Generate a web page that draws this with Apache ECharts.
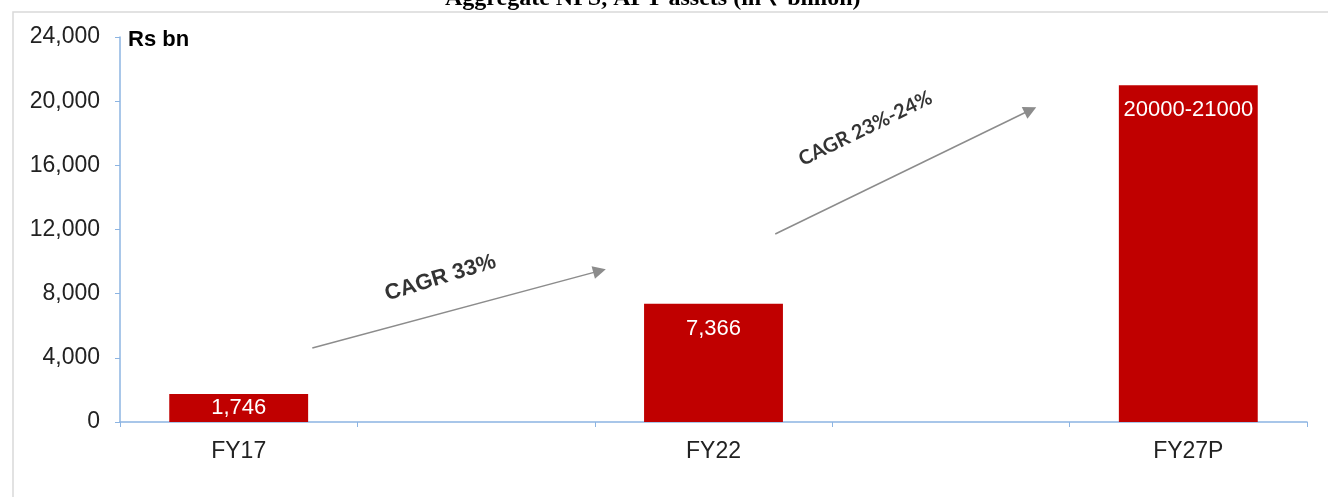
<!DOCTYPE html>
<html>
<head>
<meta charset="utf-8">
<style>
  html, body { margin: 0; padding: 0; background: #fff; }
  #chart { width: 1328px; height: 497px; }
</style>
<script src="https://cdn.jsdelivr.net/npm/echarts@6/dist/echarts.min.js"></script>
</head>
<body>
<div id="chart"></div>
<script>
// Fiscal years; the blank slots keep the gaps between the bars
const categories = ['FY17', '', 'FY22', '', 'FY27P'];
// Aggregate NPS, APY assets (Rs bn)
const assets = [1746, null, 7366, null, 21000];
const valueLabels = ['1,746', '', '7,366', '', '20000-21000'];
const yTicks = [0, 4000, 8000, 12000, 16000, 20000, 24000];

// Growth arrows, in (slot position, Rs bn) units
const arrowStarts = [[0.81, 4610], [2.76, 11720]];
const arrowEnds = [[2.02, 9420], [3.835, 19450]];
// Growth notes, their anchor points and tilt in degrees
const cagrTexts = ['CAGR 33%', 'CAGR 23%-24%'];
const cagrPoints = [[1.35, 8980], [3.14, 18300]];
const cagrTilt = [17, 26];
const cagrFonts = ['"Liberation Sans", Arial', 'Lato, "Open Sans", Arial'];
const cagrSizes = [22, 20];

const chart = echarts.init(document.getElementById('chart'), null, { renderer: 'canvas' });

const axisBlue = '#8cb4e2';
const sans = 'Arial, "Liberation Sans"';
const fmt = v => v.toLocaleString('en-US');

chart.setOption({
  animation: false,
  backgroundColor: '#ffffff',
  title: {
    text: 'Aggregate NPS, APY assets (in \u20B9 billion)',
    left: 440,
    top: -18,
    textStyle: { fontFamily: 'Liberation Serif', fontWeight: 'bold', fontSize: 24, color: '#000' }
  },
  graphic: [
    {
      type: 'polyline',
      shape: { points: [[13, 520], [13, 12], [1340, 12]] },
      style: { stroke: '#d9d9d9', lineWidth: 1.5, fill: null },
      silent: true
    },
    {
      type: 'text',
      left: 128, top: 29,
      style: { text: 'Rs bn', font: 'bold 22px Arial, "Liberation Sans"', fill: '#000' }
    }
  ],
  grid: { left: 120, right: 21, top: 37, bottom: 75, containLabel: false },
  xAxis: [
    {
      type: 'category',
      data: categories,
      axisLine: { lineStyle: { color: axisBlue, width: 1.5 } },
      axisTick: { show: true, length: 5, alignWithLabel: false, lineStyle: { color: axisBlue } },
      axisLabel: { color: '#222', fontSize: 23, fontFamily: sans, margin: 18, interval: 0 },
      splitLine: { show: false }
    },
    { type: 'value', min: 0, max: 5, show: false }
  ],
  yAxis: {
    type: 'value',
    min: yTicks[0],
    max: yTicks[yTicks.length - 1],
    interval: yTicks[1] - yTicks[0],
    axisLine: { show: true, lineStyle: { color: axisBlue, width: 1.5 } },
    axisTick: { show: true, length: 5, lineStyle: { color: axisBlue } },
    axisLabel: { color: '#222', fontSize: 23, fontFamily: sans, margin: 20, formatter: fmt },
    splitLine: { show: false }
  },
  series: [
    {
      type: 'bar',
      barWidth: '58.5%',
      itemStyle: { color: '#c00000' },
      data: assets.map((v, i) => ({
        value: v,
        label: {
          show: v != null,
          position: v != null && v < 3000 ? 'inside' : 'insideTop',
          distance: 14,
          formatter: () => valueLabels[i],
          color: '#fff',
          fontSize: 22,
          fontFamily: sans
        }
      }))
    },
    {
      type: 'lines',
      coordinateSystem: 'cartesian2d',
      xAxisIndex: 1,
      yAxisIndex: 0,
      symbol: ['none', 'triangle'],
      symbolSize: [0, 13],
      lineStyle: { color: '#8c8c8c', width: 1.5, opacity: 1 },
      silent: true,
      data: arrowStarts.map((s, i) => ({ coords: [s, arrowEnds[i]] }))
    },
    {
      type: 'scatter',
      xAxisIndex: 1,
      yAxisIndex: 0,
      symbolSize: 0,
      silent: true,
      data: cagrPoints.map((p, i) => ({
        value: p,
        label: {
          show: true,
          position: 'inside',
          rotate: cagrTilt[i],
          formatter: () => cagrTexts[i],
          color: '#000',
          fontSize: cagrSizes[i],
          fontWeight: 'bold',
          fontFamily: cagrFonts[i]
        }
      }))
    }
  ]
});
</script>
</body>
</html>
